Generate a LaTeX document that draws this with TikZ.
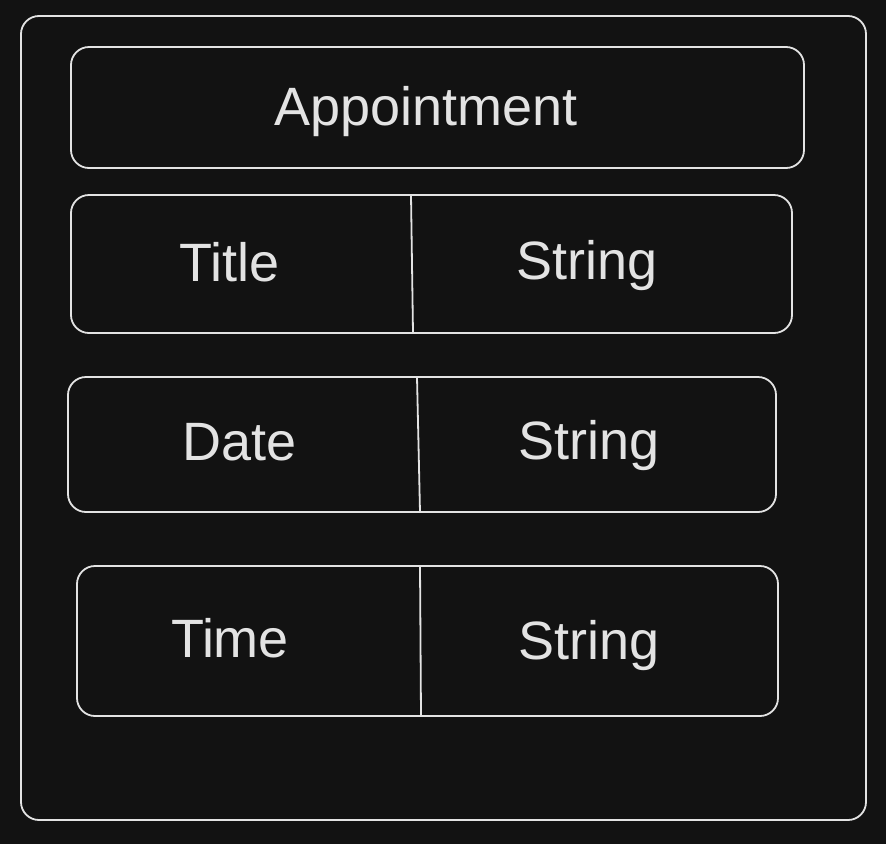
\documentclass[tikz,border=0pt]{standalone}
\usepackage{fontspec}
\setmainfont{Liberation Sans}
\definecolor{bg}{HTML}{121212}
\definecolor{ink}{HTML}{E3E3E3}
\begin{document}
\begin{tikzpicture}[x=1pt,y=-1pt,
  box/.style={draw=ink,line width=1.8pt,rounded corners=18pt,inner sep=0pt},
  lbl/.style={text=ink,font=\fontsize{54}{58}\selectfont,inner sep=0pt},
  divider/.style={draw=ink,line width=1.8pt}]
\fill[bg] (0,0) rectangle (886,844);
\useasboundingbox (0,0) rectangle (886,844);
% outer frame
\node[box,minimum width=845pt,minimum height=804pt] (outer) at (443.5,418) {};
% header
\node[box,minimum width=733pt,minimum height=121pt] (head) at (437.5,107.5) {};
\node[lbl] (appt) at (426,112) {Appointment};
% Title row
\node[box,minimum width=721pt,minimum height=138pt] (rowA) at (431.5,264) {};
\coordinate (dA1) at (411,195); \coordinate (dA2) at (413,333);
\draw[divider] (dA1) -- (dA2);
\node[lbl] (titleL) at (230,262) {Title};
\node[lbl] (titleT) at (587,266) {String};
% Date row
\node[box,minimum width=708pt,minimum height=135pt] (rowB) at (422,444.5) {};
\coordinate (dB1) at (417,377); \coordinate (dB2) at (420,512);
\draw[divider] (dB1) -- (dB2);
\node[lbl] (dateL) at (240,442) {Date};
\node[lbl] (dateT) at (589,446) {String};
% Time row
\node[box,minimum width=701pt,minimum height=150pt] (rowC) at (427.5,641) {};
\coordinate (dC1) at (420,566); \coordinate (dC2) at (421,716);
\draw[divider] (dC1) -- (dC2);
\node[lbl] (timeL) at (230,638) {Time};
\node[lbl] (timeT) at (589,646) {String};
\end{tikzpicture}
\end{document}
